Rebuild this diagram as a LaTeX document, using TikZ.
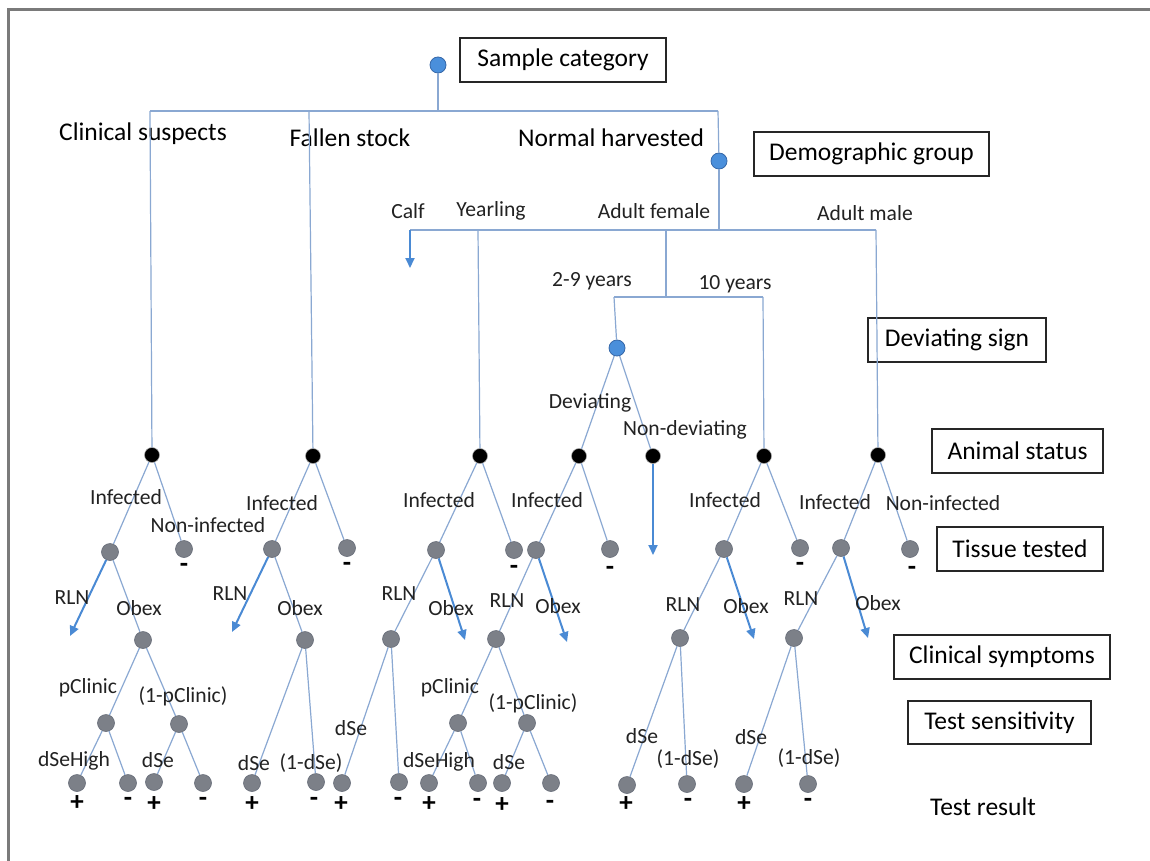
\documentclass[tikz,border=0pt]{standalone}
\usepackage{fontspec}
\setmainfont{Carlito}
\usetikzlibrary{arrows.meta}
\definecolor{lnc}{HTML}{8AA8D2}
\definecolor{arc}{HTML}{4A8AD4}
\definecolor{bluef}{HTML}{4A8FDB}
\definecolor{blued}{HTML}{3567A8}
\definecolor{grayf}{HTML}{7C8088}
\definecolor{grayd}{HTML}{666C78}
\definecolor{framec}{HTML}{7A7A7A}
\definecolor{txt}{HTML}{222222}
\begin{document}
\begin{tikzpicture}[x=1pt,y=-1pt,
 ln/.style={draw=lnc,line width=1.2pt},
 arw/.style={draw=arc,line width=2pt,-{Triangle[length=10pt,width=9pt]}},
 bdot/.style={circle,fill=bluef,draw=blued,line width=0.8pt,minimum size=16pt,inner sep=0pt},
 kdot/.style={circle,fill=black,draw=gray!70,line width=0.5pt,minimum size=15pt,inner sep=0pt},
 gdot/.style={circle,fill=grayf,draw=grayd,line width=0.6pt,minimum size=17pt,inner sep=0pt},
 big/.style={font=\fontsize{25.5}{28}\selectfont,text=black,inner sep=0pt},
 sml/.style={font=\fontsize{21.6}{24}\selectfont,text=txt,inner sep=0pt},
 sgn/.style={font=\fontsize{27}{29}\selectfont\bfseries,text=black,inner sep=0pt},
 lbox/.style 2 args={draw=black!85,line width=1.2pt,font=\fontsize{25.5}{28}\selectfont,inner sep=0pt,minimum width=#1,minimum height=#2}
]
\useasboundingbox (0,0) rectangle (1150,861);
\fill[white] (0,0) rectangle (1150,861);
\draw[framec,line width=3pt] (8.5,861) -- (8.5,9.5) -- (1150,9.5);

% legend boxes
\node[lbox={206}{44}] (bsc) at (563,60) {Sample category};
\node[lbox={235}{44}] (bdg) at (871.5,154) {Demographic group};
\node[lbox={178}{44}] (bds) at (957,340) {Deviating sign};
\node[lbox={171}{44}] (bas) at (1017.5,451) {Animal status};
\node[lbox={166}{44}] (btt) at (1020,549) {Tissue tested};
\node[lbox={216}{44}] (bcs) at (1002,657) {Clinical symptoms};
\node[lbox={183}{43}] (bts) at (999.5,722.5) {Test sensitivity};
\node[big] (ltr) at (983,807) {Test result};

% sample category
\node[bdot] (root) at (438,65) {};
\coordinate (busA) at (438,111);
\coordinate (busL) at (150,111);
\coordinate (busF) at (309,111);
\coordinate (busR) at (718,111);
\draw[ln] (root) -- (busA);
\draw[ln] (busL) -- (busR);
\node[big] (lcs) at (143,134) {Clinical suspects};
\node[big] (lfs) at (350,138) {Fallen stock};
\node[big] (lnh) at (611,138) {Normal harvested};
\node[bdot] (demo) at (719,161) {};
\draw[ln] (busR) -- (demo);
\node[kdot] (cs) at (152,455) {};
\node[kdot] (fs) at (313,456) {};
\draw[ln] (busL) -- (cs);
\draw[ln] (busF) -- (fs);

% demographic group
\coordinate (d0) at (719,230);
\coordinate (dL) at (410,230);
\coordinate (dY) at (478,230);
\coordinate (dF) at (666,230);
\coordinate (dM) at (876,230);
\draw[ln] (demo) -- (d0);
\draw[ln] (dL) -- (dM);
\coordinate (calfend) at (410,268);
\draw[arw] (dL) -- (calfend);
\node[sml] (lcalf) at (408,211) {Calf};
\node[sml] (lyr) at (491,211) {Yearling};
\node[sml] (laf) at (654,211) {Adult female};
\node[sml] (lam) at (865,213) {Adult male};
\node[kdot] (yr) at (480,456) {};
\draw[ln] (dY) -- (yr);
\coordinate (af) at (666,297);
\draw[ln] (dF) -- (af);
\coordinate (a29) at (614,297);
\coordinate (a10) at (763,297);
\draw[ln] (a29) -- (a10);
\node[sml] (l29) at (592,281) {2-9 years};
\node[sml] (l10) at (735,284) {10 years};
\node[bdot] (dev) at (617,348) {};
\draw[ln] (a29) -- (dev);
\node[kdot] (ten) at (764,456) {};
\draw[ln] (a10) -- (ten);
\node[kdot] (am) at (878,455) {};
\draw[ln] (dM) -- (am);
\node[kdot] (dd) at (579,456) {};
\node[kdot] (dn) at (653,456) {};
\draw[ln] (dev) -- (dd);
\draw[ln] (dev) -- (dn);
\node[sml] (ldev) at (590,403) {Deviating};
\node[sml] (lndev) at (685,430) {Non-deviating};
\coordinate (dnend) at (653,555);
\draw[arw] (dn) -- (dnend);

% ---------- Clinical suspects subtree
\node[gdot] (csi) at (110,552) {};
\node[gdot] (csn) at (184,549) {};
\draw[ln] (cs) -- (csi);
\draw[ln] (cs) -- (csn);
\node[sml] (lcsi) at (126,497) {Infected};
\node[sml] (lcsn) at (208,525) {Non-infected};
\node[sgn] (scsn) at (184,568) {-};
\coordinate (csr) at (70,636);
\draw[arw] (csi) -- (csr);
\node[gdot] (cso) at (143,640) {};
\draw[ln] (csi) -- (cso);
\node[sml] (lcsr) at (72,598) {RLN};
\node[sml] (lcso) at (139,608) {Obex};
\node[gdot] (csp) at (106,723) {};
\node[gdot] (csq) at (179,724) {};
\draw[ln] (cso) -- (csp);
\draw[ln] (cso) -- (csq);
\node[sml] (lcsp) at (88,688) {pClinic};
\node[sml] (lcsq) at (183,696) {(1-pClinic)};
\node[gdot] (cs1) at (77,783) {};
\node[gdot] (cs2) at (128,783) {};
\node[gdot] (cs3) at (154,782) {};
\node[gdot] (cs4) at (203,783) {};
\draw[ln] (csp) -- (cs1);
\draw[ln] (csp) -- (cs2);
\draw[ln] (csq) -- (cs3);
\draw[ln] (csq) -- (cs4);
\node[sml] (lcs1) at (74,761) {dSeHigh};
\node[sml] (lcs3) at (158,760) {dSe};
\node[sgn] (scs1) at (77,803) {+};
\node[sgn] (scs2) at (128,802) {-};
\node[sgn] (scs3) at (154,804) {+};
\node[sgn] (scs4) at (203,802) {-};

% ---------- Fallen stock subtree
\node[gdot] (fsi) at (272,549) {};
\node[gdot] (fsn) at (347,548) {};
\draw[ln] (fs) -- (fsi);
\draw[ln] (fs) -- (fsn);
\node[sml] (lfsi) at (282,503) {Infected};
\node[sgn] (sfsn) at (347,567) {-};
\coordinate (fsr) at (232,632);
\draw[arw] (fsi) -- (fsr);
\node[gdot] (fso) at (305,640) {};
\draw[ln] (fsi) -- (fso);
\node[sml] (lfsr) at (230,594) {RLN};
\node[sml] (lfso) at (300,608) {Obex};
\node[gdot] (fs1) at (252,783) {};
\node[gdot] (fs2) at (316,782) {};
\draw[ln] (fso) -- (fs1);
\draw[ln] (fso) -- (fs2);
\node[sml] (lfs1) at (254,763) {dSe};
\node[sml] (lfs2) at (311,763) {(1-dSe)};
\node[sgn] (sfs1) at (252,804) {+};
\node[sgn] (sfs2) at (314,802) {-};

% ---------- Yearling subtree
\node[gdot] (yri) at (436,550) {};
\node[gdot] (yrn) at (514,550) {};
\draw[ln] (yr) -- (yri);
\draw[ln] (yr) -- (yrn);
\node[sml] (lyri) at (439,500) {Infected};
\node[sgn] (syrn) at (514,570) {-};
\node[gdot] (yrr) at (391,639) {};
\draw[ln] (yri) -- (yrr);
\coordinate (yro) at (465,640);
\draw[arw] (yri) -- (yro);
\node[sml] (lyrr) at (399,594) {RLN};
\node[sml] (lyro) at (451,608) {Obex};
\node[gdot] (yr1) at (342,783) {};
\node[gdot] (yr2) at (399,782) {};
\draw[ln] (yrr) -- (yr1);
\draw[ln] (yrr) -- (yr2);
\node[sml] (lyr1) at (351,728) {dSe};
\node[sgn] (syr1) at (341,804) {+};
\node[sgn] (syr2) at (398,802) {-};

% ---------- Deviating subtree
\node[gdot] (ddi) at (536,550) {};
\node[gdot] (ddn) at (610,549) {};
\draw[ln] (dd) -- (ddi);
\draw[ln] (dd) -- (ddn);
\node[sml] (lddi) at (547,500) {Infected};
\node[sgn] (sddn) at (610,571) {-};
\node[gdot] (ddr) at (496,639) {};
\draw[ln] (ddi) -- (ddr);
\coordinate (ddo) at (567,642);
\draw[arw] (ddi) -- (ddo);
\node[sml] (lddr) at (507,601) {RLN};
\node[sml] (lddo) at (558,606) {Obex};
\node[gdot] (ddp) at (458,723) {};
\node[gdot] (ddq) at (527,723) {};
\draw[ln] (ddr) -- (ddp);
\draw[ln] (ddr) -- (ddq);
\node[sml] (lddp) at (450,688) {pClinic};
\node[sml] (lddq) at (533,703) {(1-pClinic)};
\node[gdot] (dd1) at (429,783) {};
\node[gdot] (dd2) at (478,783) {};
\node[gdot] (dd3) at (502,783) {};
\node[gdot] (dd4) at (551,783) {};
\draw[ln] (ddp) -- (dd1);
\draw[ln] (ddp) -- (dd2);
\draw[ln] (ddq) -- (dd3);
\draw[ln] (ddq) -- (dd4);
\node[sml] (ldd1) at (439,762) {dSeHigh};
\node[sml] (ldd3) at (509,762) {dSe};
\node[sgn] (sdd1) at (429,804) {+};
\node[sgn] (sdd2) at (477,803) {-};
\node[sgn] (sdd3) at (502,805) {+};
\node[sgn] (sdd4) at (550,805) {-};

% ---------- 10 years subtree
\node[gdot] (tni) at (724,549) {};
\node[gdot] (tnn) at (800,548) {};
\draw[ln] (ten) -- (tni);
\draw[ln] (ten) -- (tnn);
\node[sml] (ltni) at (725,500) {Infected};
\node[sgn] (stnn) at (800,567) {-};
\node[gdot] (tnr) at (680,638) {};
\draw[ln] (tni) -- (tnr);
\coordinate (tno) at (754,639);
\draw[arw] (tni) -- (tno);
\node[sml] (ltnr) at (683,605) {RLN};
\node[sml] (ltno) at (746,606) {Obex};
\node[gdot] (tn1) at (627,785) {};
\node[gdot] (tn2) at (687,784) {};
\draw[ln] (tnr) -- (tn1);
\draw[ln] (tnr) -- (tn2);
\node[sml] (ltn1) at (642,736) {dSe};
\node[sml] (ltn2) at (688,759) {(1-dSe)};
\node[sgn] (stn1) at (626,804) {+};
\node[sgn] (stn2) at (688,803) {-};

% ---------- Adult male subtree
\node[gdot] (ami) at (841,548) {};
\node[gdot] (amn) at (910,549) {};
\draw[ln] (am) -- (ami);
\draw[ln] (am) -- (amn);
\node[sml] (lami) at (835,502) {Infected};
\node[sml] (lamn) at (943,503) {Non-infected};
\node[sgn] (samn) at (912,571) {-};
\node[gdot] (amr) at (794,638) {};
\draw[ln] (ami) -- (amr);
\coordinate (amo) at (868,638);
\draw[arw] (ami) -- (amo);
\node[sml] (lamr) at (801,599) {RLN};
\node[sml] (lamo) at (878,603) {Obex};
\node[gdot] (am1) at (744,784) {};
\node[gdot] (am2) at (808,784) {};
\draw[ln] (amr) -- (am1);
\draw[ln] (amr) -- (am2);
\node[sml] (lam1) at (751,737) {dSe};
\node[sml] (lam2) at (809,758) {(1-dSe)};
\node[sgn] (sam1) at (744,804) {+};
\node[sgn] (sam2) at (808,803) {-};
\end{tikzpicture}
\end{document}
